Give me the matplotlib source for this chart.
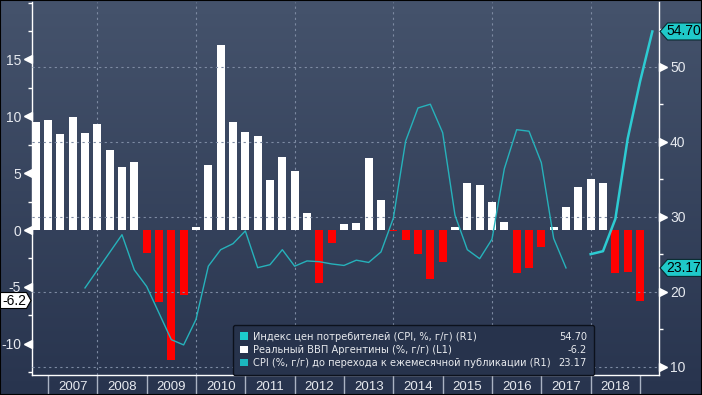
import numpy as np
import matplotlib
matplotlib.use("Agg")
import matplotlib.pyplot as plt
import matplotlib.transforms as mtrans
from matplotlib.patches import Patch, Polygon, Rectangle
from matplotlib.ticker import MultipleLocator, FixedLocator, NullFormatter, FixedFormatter
from matplotlib.colors import LinearSegmentedColormap

plt.rcParams['font.family'] = ['Liberation Sans', 'DejaVu Sans']
plt.rcParams['axes.unicode_minus'] = False

# ---------------- data ----------------
gdp_quarters = ['2006Q3', '2006Q4',
                '2007Q1', '2007Q2', '2007Q3', '2007Q4',
                '2008Q1', '2008Q2', '2008Q3', '2008Q4',
                '2009Q1', '2009Q2', '2009Q3', '2009Q4',
                '2010Q1', '2010Q2', '2010Q3', '2010Q4',
                '2011Q1', '2011Q2', '2011Q3', '2011Q4',
                '2012Q1', '2012Q2', '2012Q3', '2012Q4',
                '2013Q1', '2013Q2', '2013Q3', '2013Q4',
                '2014Q1', '2014Q2', '2014Q3', '2014Q4',
                '2015Q1', '2015Q2', '2015Q3', '2015Q4',
                '2016Q1', '2016Q2', '2016Q3', '2016Q4',
                '2017Q1', '2017Q2', '2017Q3', '2017Q4',
                '2018Q1', '2018Q2', '2018Q3', '2018Q4']
gdp_values = [9.5, 9.7,
              8.4, 9.9, 8.5, 9.3,
              7.0, 5.5, 6.0, -2.0,
              -6.3, -11.4, -5.7, 0.3,
              5.7, 16.3, 9.5, 8.6,
              8.3, 4.4, 6.4, 5.2,
              1.5, -4.7, -1.1, 0.5,
              0.6, 6.3, 2.6, -0.1,
              -0.9, -2.1, -4.3, -2.8,
              0.3, 4.1, 4.0, 2.5,
              0.7, -3.8, -3.3, -1.5,
              0.3, 2.0, 3.8, 4.5,
              4.1, -3.8, -3.7, -6.2]

cpi_old_quarters = ['2007Q3', '2008Q2', '2008Q3', '2008Q4',
                    '2009Q2', '2009Q3', '2009Q4',
                    '2010Q1', '2010Q2', '2010Q3', '2010Q4',
                    '2011Q1', '2011Q2', '2011Q3', '2011Q4',
                    '2012Q1', '2012Q2', '2012Q3', '2012Q4',
                    '2013Q1', '2013Q2', '2013Q3', '2013Q4',
                    '2014Q1', '2014Q2', '2014Q3', '2014Q4',
                    '2015Q1', '2015Q2', '2015Q3', '2015Q4',
                    '2016Q1', '2016Q2', '2016Q3', '2016Q4',
                    '2017Q1', '2017Q2']
cpi_old_values = [20.5, 27.6, 22.9, 20.7,
                  13.6, 12.9, 16.3,
                  23.4, 25.6, 26.4, 28.1,
                  23.2, 23.6, 25.6, 23.4,
                  24.1, 24.0, 23.7, 23.5,
                  24.2, 23.9, 25.3, 29.8,
                  40.1, 44.5, 45.0, 41.2,
                  30.2, 25.6, 24.4, 27.0,
                  36.4, 41.6, 41.4, 37.2,
                  27.1, 23.17]

cpi_new_quarters = ['2017Q4', '2018Q1', '2018Q2', '2018Q3', '2018Q4', '2019Q1']
cpi_new_values = [25.0, 25.4, 29.7, 40.4, 48.0, 54.70]

year_labels = ['2007', '2008', '2009', '2010', '2011', '2012',
               '2013', '2014', '2015', '2016', '2017', '2018']

left_ticks = [-10, -5, 0, 5, 10, 15]
right_ticks = [10, 20, 30, 40, 50]

legend_labels = ['Индекс цен потребителей (CPI, %, г/г) (R1)',
                 'Реальный ВВП Аргентины (%, г/г) (L1)',
                 'CPI (%, г/г) до перехода к ежемесячной публикации (R1)']
legend_values = ['54.70', '-6.2', '23.17']


def qpos(q):
    # quarter-end position in decimal years
    return int(q[:4]) + int(q[5]) / 4.0


x_gdp = np.array([qpos(q) for q in gdp_quarters])
x_old = np.array([qpos(q) for q in cpi_old_quarters])
x_new = np.array([qpos(q) for q in cpi_new_quarters])

# ---------------- figure ----------------
W_PX, H_PX = 702, 395
fig = plt.figure(figsize=(W_PX / 100, H_PX / 100), dpi=100)

# background gradient
bg = fig.add_axes([0, 0, 1, 1], zorder=-10)
cmap = LinearSegmentedColormap.from_list('bg', ['#28344e', '#45536c'])
grad = np.linspace(0, 1, 256).reshape(-1, 1)
bg.imshow(grad, aspect='auto', cmap=cmap, origin='lower', extent=[0, 1, 0, 1])
bg.set_axis_off()

L, B, R, T = 32, 20, 659, 2   # pixel edges
ax = fig.add_axes([L / W_PX, B / H_PX, (R - L) / W_PX, (H_PX - T - B) / H_PX])
ax.patch.set_alpha(0)
ax2 = ax.twinx()
ax2.patch.set_alpha(0)

ax.set_xlim(2006.676, 2019.385)
ax.set_ylim(-12.75, 20.05)
ax2.set_ylim(8.89, 58.63)

# grid
grid_kw = dict(color='#7d8aa2', lw=0.8, ls=(0, (2, 3)), zorder=0)
for yv in right_ticks:
    ax2.axhline(yv, **grid_kw)
for xv in range(2008, 2019, 2):
    ax.axvline(xv, **grid_kw)

# bars
bar_colors = ['white' if v >= 0 else '#ff0000' for v in gdp_values]
ax.bar(x_gdp, gdp_values, width=0.165, color=bar_colors, zorder=2)

# lines
ax2.plot(x_old, cpi_old_values, color='#26b2bb', lw=1.0, zorder=3)
ax2.plot(x_new, cpi_new_values, color='#2dcbd2', lw=1.8, zorder=3)

# spines
for a in (ax, ax2):
    a.spines['top'].set_visible(False)
ax2.spines['left'].set_visible(False)
ax2.spines['bottom'].set_visible(False)
ax.spines['right'].set_visible(False)
for s in ['left', 'bottom']:
    ax.spines[s].set_color('white')
    ax.spines[s].set_linewidth(1.0)
ax2.spines['right'].set_color('white')
ax2.spines['right'].set_linewidth(1.0)

tick_color = '#e6e9ef'
# left ticks
ax.yaxis.set_major_locator(FixedLocator(left_ticks))
ax.yaxis.set_minor_locator(MultipleLocator(2.5))
ax.tick_params(axis='y', which='major', length=0, pad=8, labelsize=10, labelcolor=tick_color)
ax.tick_params(axis='y', which='minor', length=3, width=1, color='white', direction='out')
# right ticks
ax2.yaxis.set_major_locator(FixedLocator(right_ticks))
ax2.yaxis.set_minor_locator(MultipleLocator(5))
ax2.tick_params(axis='y', which='major', length=0, pad=8, labelsize=10, labelcolor=tick_color)
ax2.tick_params(axis='y', which='minor', length=3, width=1, color='white', direction='out')

# triangle tick markers
ax.plot(np.full(len(left_ticks), -4 / (R - L)), left_ticks, ls='none', marker='<', ms=5.5,
        color='white', transform=ax.get_yaxis_transform(), clip_on=False, zorder=5)
ax2.plot(np.full(len(right_ticks), 1 + 4 / (R - L)), right_ticks, ls='none', marker='>', ms=5.5,
         color='white', transform=ax2.get_yaxis_transform(), clip_on=False, zorder=5)

# x axis: year separators and centered labels
years = [int(y) for y in year_labels]
ax.xaxis.set_major_locator(FixedLocator(years + [years[-1] + 1]))
ax.xaxis.set_major_formatter(NullFormatter())
ax.xaxis.set_minor_locator(FixedLocator([y + 0.5 for y in years]))
ax.xaxis.set_minor_formatter(FixedFormatter(year_labels))
ax.tick_params(axis='x', which='major', length=20, width=1, color='#aab3c3', direction='out')
ax.tick_params(axis='x', which='minor', length=0, pad=4, labelsize=9.5, labelcolor=tick_color)


# value tags
def tag_transform(axis, y):
    return fig.dpi_scale_trans + mtrans.ScaledTranslation(
        0 if axis is ax else 1, y, axis.get_yaxis_transform())


tr = tag_transform(ax, gdp_values[-1])
ax.add_patch(Polygon([(-0.01, 0), (-0.055, 0.08), (-0.33, 0.08), (-0.33, -0.08), (-0.055, -0.08)],
                     closed=True, fc='white', ec='black', lw=0.8, transform=tr, clip_on=False, zorder=6))
ax.text(-0.175, 0, f'{gdp_values[-1]:.1f}', transform=tr, ha='center', va='center',
        fontsize=10, color='black', zorder=7)

for val in [cpi_new_values[-1], cpi_old_values[-1]]:
    tr2 = tag_transform(ax2, val)
    ax2.add_patch(Polygon([(0.01, 0), (0.085, 0.085), (0.44, 0.085), (0.44, -0.085), (0.085, -0.085)],
                          closed=True, fc='#1fc9c9', ec='#0b2a30', lw=0.8, transform=tr2,
                          clip_on=False, zorder=6))
    ax2.text(0.245, 0, f'{val:.2f}', transform=tr2, ha='center', va='center',
             fontsize=10, color='black', zorder=7)

# legend
handles = [Patch(fc='#1ccbcc', ec='none'), Patch(fc='white', ec='none'), Patch(fc='#1bb7bf', ec='none')]
x0 = (233 - L) / (R - L)
x1 = (594 - L) / (R - L)
leg = ax2.legend(handles, legend_labels, loc='lower left', bbox_to_anchor=(x0, 0.0, x1 - x0, 0.14),
                 mode='expand', prop={'family': ['DejaVu Sans'], 'size': 7.1},
                 labelcolor='#e8eaee', facecolor='#27334c',
                 edgecolor='#0c111c', framealpha=1, fancybox=True, handlelength=0.8,
                 handleheight=0.8, handletextpad=0.55, borderpad=0.7, labelspacing=0.33,
                 borderaxespad=0.0, ncol=1)
leg.get_frame().set_linewidth(1.0)
leg.set_zorder(8)

fig.canvas.draw()
inv = ax2.transAxes.inverted()
vx = (587 - L) / (R - L)
for t, v in zip(leg.get_texts(), legend_values):
    bb = t.get_window_extent()
    yc = inv.transform((0, (bb.y0 + bb.y1) / 2))[1]
    ax2.text(vx, yc, v, transform=ax2.transAxes, ha='right', va='center',
             fontsize=7.1, family=['DejaVu Sans'], color='#e8eaee', zorder=9)

# figure border
fig.patches.append(Rectangle((0, 0), 1, 1, transform=fig.transFigure, fill=False,
                             ec='black', lw=1.5, zorder=20))

fig.savefig('out.png', dpi=100)
